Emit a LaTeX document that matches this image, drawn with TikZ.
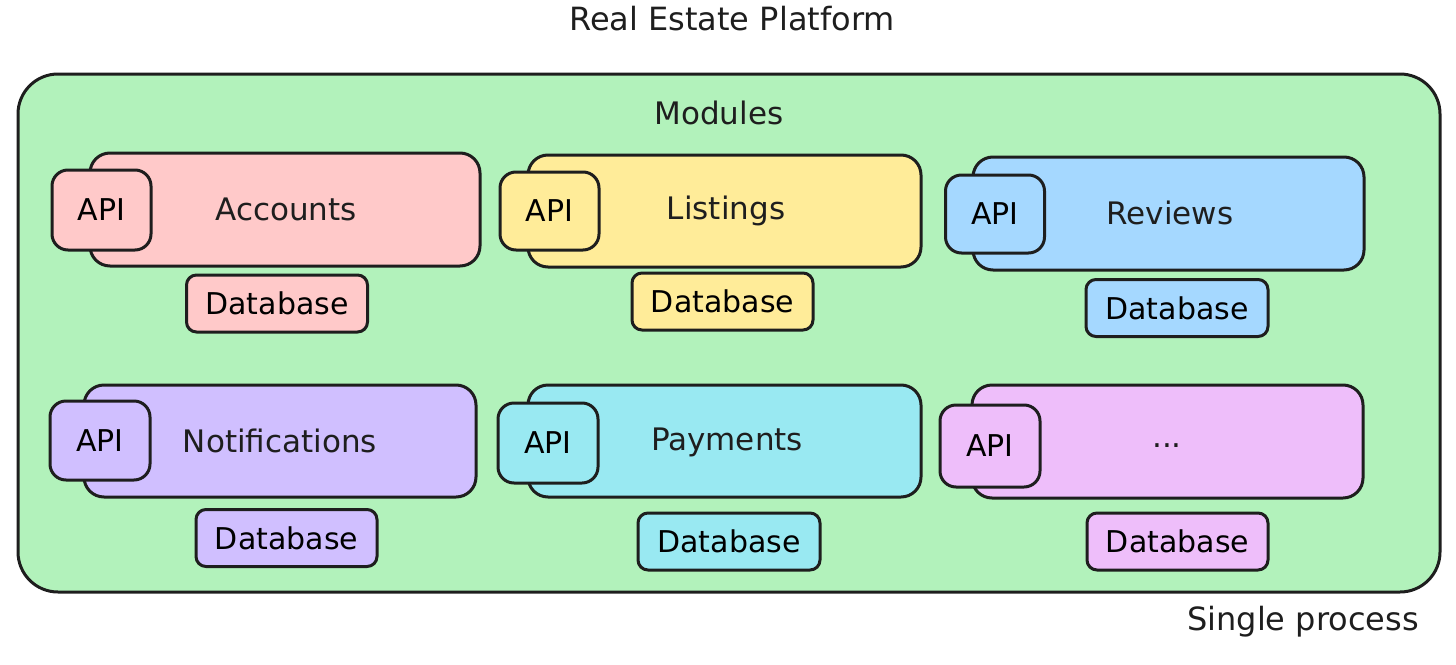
\documentclass[tikz,border=0pt]{standalone}
\usepackage{fontspec}
\setmainfont{DejaVu Sans}
\definecolor{grn}{HTML}{B2F2BB}
\definecolor{pnk}{HTML}{FFC9C9}
\definecolor{ylw}{HTML}{FFEC99}
\definecolor{blu}{HTML}{A5D8FF}
\definecolor{prp}{HTML}{D0BFFF}
\definecolor{cyn}{HTML}{99E9F2}
\definecolor{mag}{HTML}{EEBEFA}
\definecolor{ink}{HTML}{1E1E1E}
\tikzset{
  outerbox/.style={draw=ink, line width=3pt, fill=grn, rounded corners=40pt, inner sep=0pt},
  modbox/.style={draw=ink, line width=3pt, rounded corners=20pt, inner sep=0pt},
  apibox/.style={draw=ink, line width=3pt, rounded corners=16pt, inner sep=0pt, minimum width=99pt, minimum height=80pt, font=\fontsize{30}{32}\selectfont},
  dbbox/.style={draw=ink, line width=3pt, rounded corners=10pt, inner sep=0pt, minimum width=181pt, minimum height=57pt, font=\fontsize{30}{32}\selectfont},
  lbl/.style={font=\fontsize{31}{34}\selectfont, text=ink, inner sep=0pt},
  ttl/.style={font=\fontsize{32}{34}\selectfont, text=ink, inner sep=0pt},
}
\begin{document}
\begin{tikzpicture}[x=1pt,y=-1pt]
\useasboundingbox (0,0) rectangle (1456,664);
\node[ttl] (title) at (732,19) {Real Estate Platform};
\node[outerbox, minimum width=1422pt, minimum height=518pt] (outer) at (729,333) {};
\node[lbl] (modules) at (719,113) {Modules};
\node[ttl] (single) at (1303,622) {Single process};
% Row 1
\node[modbox, fill=pnk, minimum width=390pt, minimum height=113pt] (accm) at (285,209.5) {};
\node[apibox, fill=pnk] (acca) at (101.5,210) {API};
\node[lbl] (accl) at (286,209) {Accounts};
\node[dbbox, fill=pnk] (accd) at (277,303.5) {Database};
\node[modbox, fill=ylw, minimum width=393pt, minimum height=112pt] (lism) at (724.5,211) {};
\node[apibox, fill=ylw, minimum height=78pt] (lisa) at (549.5,211) {API};
\node[lbl] (lisl) at (726,211) {Listings};
\node[dbbox, fill=ylw] (lisd) at (722.5,301.5) {Database};
\node[modbox, fill=blu, minimum width=391pt, minimum height=113pt] (revm) at (1168.5,213.5) {};
\node[apibox, fill=blu, minimum height=78pt] (reva) at (995,214) {API};
\node[lbl] (revl) at (1170,213) {Reviews};
\node[dbbox, fill=blu, minimum width=182pt] (revd) at (1177,308) {Database};
% Row 2
\node[modbox, fill=prp, minimum width=392pt, minimum height=112pt] (notm) at (280,441) {};
\node[apibox, fill=prp, minimum width=100pt, minimum height=79pt] (nota) at (100,440.5) {API};
\node[lbl] (notl) at (280,441) {Notifications};
\node[dbbox, fill=prp] (notd) at (286.5,538) {Database};
\node[modbox, fill=cyn, minimum width=393pt, minimum height=112pt] (paym) at (724.5,441) {};
\node[apibox, fill=cyn, minimum width=100pt] (paya) at (548,443) {API};
\node[lbl] (payl) at (727,442) {Payments};
\node[dbbox, fill=cyn, minimum width=182pt] (payd) at (729,541.5) {Database};
\node[modbox, fill=mag, minimum width=391pt, minimum height=113pt] (etcm) at (1167.5,441.5) {};
\node[apibox, fill=mag, minimum width=100pt, minimum height=82pt] (etca) at (990,446) {API};
\node[lbl] (etcl) at (1167,446) {...};
\node[dbbox, fill=mag] (etcd) at (1177.5,541.5) {Database};
\end{tikzpicture}
\end{document}
